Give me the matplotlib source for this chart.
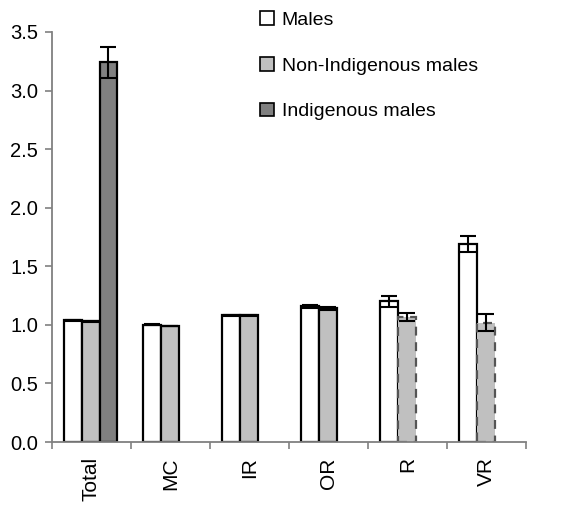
import numpy as np
import matplotlib
matplotlib.use("Agg")
import matplotlib.pyplot as plt

categories = ["Total", "MC", "IR", "OR", "R", "VR"]
series_names = ["Males", "Non-Indigenous males", "Indigenous males"]
males = [1.04, 1.00, 1.08, 1.16, 1.20, 1.69]
males_err = [0.003, 0.004, 0.004, 0.012, 0.045, 0.07]
non_indig = [1.03, 0.99, 1.08, 1.14, 1.07, 1.02]
non_indig_err = [0.003, 0.004, 0.004, 0.012, 0.035, 0.07]
indig = [3.24, np.nan, np.nan, np.nan, np.nan, np.nan]
indig_err = [0.13, 0, 0, 0, 0, 0]
dashed_cats = ["R", "VR"]

plt.rcParams["font.family"] = ["Liberation Sans", "DejaVu Sans"]
plt.rcParams["font.size"] = 14

fig = plt.figure(figsize=(5.67, 5.07), dpi=100)
ax = fig.add_axes([0.0917, 0.1282, 0.836, 0.8087])

x = np.arange(len(categories)) + 0.5
w = 0.225
colors = ["white", "#c0c0c0", "#808080"]
err_kw = dict(ecolor="black", elinewidth=1.5, capsize=5.5, capthick=1.5)

b1 = ax.bar(x - 0.235, males, w, color=colors[0], edgecolor="black", linewidth=1.6,
            yerr=males_err, error_kw=err_kw, label=series_names[0], zorder=2)
b2 = ax.bar(x - 0.01, non_indig, w, color=colors[1], edgecolor="black", linewidth=1.6,
            yerr=non_indig_err, error_kw=err_kw, label=series_names[1], zorder=2)
b3 = ax.bar(x + 0.215, indig, w, color=colors[2], edgecolor="black", linewidth=1.6,
            yerr=indig_err, error_kw=err_kw, label=series_names[2], zorder=2)

for cat, patch in zip(categories, b2.patches):
    if cat in dashed_cats:
        patch.set_edgecolor("#555555")
        patch.set_linestyle((0, (4, 3)))

ax.set_xlim(0, len(categories))
ax.set_ylim(0, 3.5)
ax.set_yticks(np.arange(0, 3.51, 0.5))
ax.set_yticklabels([f"{v:.1f}" for v in np.arange(0, 3.51, 0.5)], fontsize=14.5)
ax.set_xticks(x)
ax.set_xticklabels(categories, rotation=90, fontsize=15)
ax.set_xticks(np.arange(0, len(categories) + 1), minor=True)
ax.tick_params(axis="x", which="major", length=0, pad=11)
ax.tick_params(axis="x", which="minor", length=5, color="#808080", width=1.2)
ax.tick_params(axis="y", length=5, color="#808080", width=1.2, pad=5)

for side in ["top", "right"]:
    ax.spines[side].set_visible(False)
for side in ["left", "bottom"]:
    ax.spines[side].set_color("#808080")
    ax.spines[side].set_linewidth(1.3)

handles = [plt.Rectangle((0, 0), 1, 1, facecolor=c, edgecolor="black", linewidth=1.2)
           for c in colors]
fig.legend(handles, series_names, loc="upper left", bbox_to_anchor=(0.428, 1.012),
           frameon=False, handlelength=0.7, handleheight=0.7, handletextpad=0.4,
           labelspacing=1.44, fontsize=14)

fig.savefig("out.png", dpi=100)
